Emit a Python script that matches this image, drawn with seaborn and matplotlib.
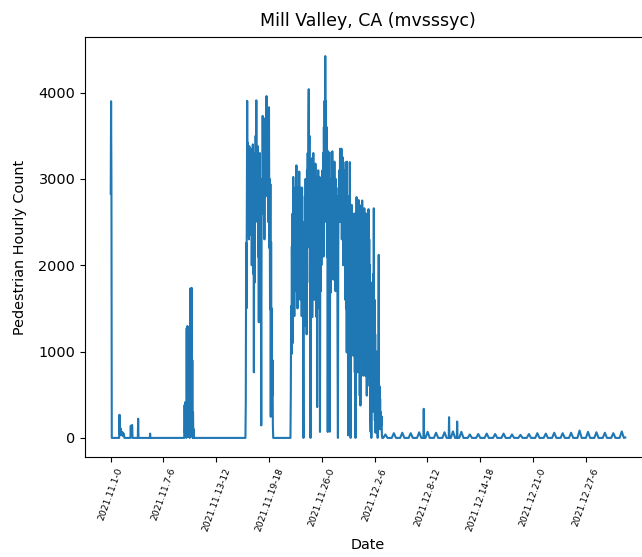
import matplotlib
matplotlib.use("Agg")
import matplotlib.pyplot as plt
import pandas as pd
import seaborn as sns

# ---------------- data (hour index since 2021-11-01 00:00, pedestrian count) -------------
tick_hours = [0, 150, 300, 450, 600, 750, 900, 1050, 1200, 1350]
tick_labels = ["2021.11.1-0", "2021.11.7-6", "2021.11.13-12", "2021.11.19-18",
               "2021.11.26-0", "2021.12.2-6", "2021.12.8-12", "2021.12.14-18",
               "2021.12.21-0", "2021.12.27-6"]

# early November, sparse readings
early_hours = [0, 1, 2, 3, 24, 25, 26, 28, 30, 33, 35, 37, 39,
               56, 57, 58, 60, 61, 62, 77, 78, 79, 111, 112, 113]
early_counts = [2830, 3900, 3010, 0, 0, 268, 40, 110, 30, 70, 20, 50, 0,
                0, 140, 20, 145, 150, 0, 0, 222, 0, 0, 50, 0]

# Nov 10 burst, hourly from hour 209
burst_start = 209
burst_counts = [0, 380, 60, 415, 20, 300, 0, 1270, 100, 1296, 30, 600, 10, 1280,
                80, 1000, 0, 1730, 50, 1700, 200, 1738, 20, 900, 0, 300, 0, 100, 0]

# Nov 17 - Nov 20 busy period, hourly from hour 383
busy1_start = 383
busy1_counts = [0, 415, 2260, 1500, 2620, 3905, 2700, 3420, 2400, 3300, 2300, 3380,
                2600, 3100, 2350, 3350, 2800, 3250, 2000, 3050, 2300, 3400, 1900, 2900,
                760, 2800, 1800, 3300, 2600, 3500, 2900, 3910, 2700, 3330, 2500, 3380,
                2100, 3200, 1340, 3000, 2200, 3300, 2400, 2900, 1800, 145, 2500, 3000,
                2600, 3730, 2900, 3470, 2600, 3600, 2300, 3700, 3000, 3500, 2800, 3650,
                3960, 2900, 3800, 3100, 3550, 2500, 3700, 3830, 2200, 3000, 1490, 2940,
                245, 2270, 760, 1500, 490, 900, 150, 0]

# Nov 22 - Dec 3 busy period, hourly from hour 511
busy2_start = 511
busy2_counts = [
    0, 500, 1526, 970, 2217, 1300, 2600, 1100, 3023, 2000,
    2700, 1411, 2800, 1700, 2900, 1950, 2600, 3157, 2100, 2900,
    1500, 2500, 1950, 2750, 2300, 3085, 2400, 2900, 1600, 2700,
    2000, 2600, 1411, 2900, 1800, 2500, 900, 0, 1500, 2300,
    1300, 2800, 1900, 3000, 2000, 2600, 1200, 3100, 2200, 3300,
    2400, 3600, 4040, 2800, 3500, 1800, 2500, 0,
    1800, 3000, 2200, 3240, 1400, 2800, 2000, 3300, 2400, 3085,
    1600, 2900, 2200, 3177, 2500, 2800, 1400, 3000, 357, 2600,
    1800, 3100, 2100, 2800, 1500, 3023, 69, 2400, 1700, 2900,
    2000, 2600, 2200, 3100,
    2400, 3300, 2100, 3600, 2800, 3905, 3200, 4423, 3400, 3900,
    2500, 3600, 2100, 3330, 69, 2800, 1680, 3310, 2300, 2900,
    72, 2600, 1680,
    3000, 2200, 3310, 2500, 3320, 2000, 3100, 1834, 2900, 2400,
    3200, 1900, 2790, 1700, 3000, 2300, 2800, 1834, 2600, 900,
    0, 2200, 2900,
    2500, 3100, 2600, 3350, 2505, 3200, 2700, 3350, 2300, 3100,
    2500, 3250, 2000, 3000, 2500, 3100, 2200, 2900, 1600,
    3195, 1500, 2800, 990, 3200, 1200, 2600, 30, 2400, 950,
    2800, 1600, 3195, 1900, 0, 2500, 1300, 2700, 1000, 2600,
    1800, 2400, 950, 2200, 1400,
    2600, 760, 2400, 0, 2200, 1000, 2790, 1200, 2500, 760,
    2700, 1300, 2755, 1000, 2400, 490, 2600, 375, 2300, 1100,
    2700, 900, 2750, 1400, 2200, 720, 2500, 990, 2660, 1200,
    2300, 720, 2600, 1300, 2400, 490, 2500, 1000, 2200, 700,
    2650, 1100, 2300, 600, 2000, 300, 70, 1800, 0, 1500, 600,
    1400, 300, 1900, 500, 2660, 800, 1600, 200, 1200, 60,
    900, 400, 1000, 150, 700, 0, 500, 1000, 2120, 100,
    600, 200, 450, 100, 300, 145, 250, 30, 0]

# December quiet period: daily peak per day starting Dec 3 (hour 768)
tail_start = 768
tail_day_peaks = [40, 55, 60, 55, 65, 70, 60, 65, 75, 70, 40, 45, 50, 45, 50,
                  40, 35, 45, 55, 50, 60, 55, 60, 85, 70, 65, 60, 55, 75]
spike_hours = [889, 890, 891, 961, 962, 963, 984, 985, 986]
spike_counts = [0, 337, 0, 0, 240, 0, 0, 190, 0]
last_hour, last_count = 1463, 5

# ---------------- assemble series ----------------
hours = list(early_hours)
counts = list(early_counts)
for start, seg in [(burst_start, burst_counts), (busy1_start, busy1_counts),
                   (busy2_start, busy2_counts)]:
    hours += [start + i for i in range(len(seg))]
    counts += list(seg)

tail = {}
for k, p in enumerate(tail_day_peaks):
    d = tail_start + 24 * k
    tail[d + 7] = 0
    tail[d + 13] = p
    tail[d + 19] = 0
for h, c in zip(spike_hours, spike_counts):
    tail[h] = c
tail[last_hour] = last_count
for h in sorted(tail):
    if h > hours[-1]:
        hours.append(h)
        counts.append(tail[h])

df = pd.DataFrame({"hour": hours, "count": counts})

# ---------------- plot ----------------
fig = plt.figure(figsize=(6.42, 5.57), dpi=100)
ax = fig.add_axes([85 / 642, 100 / 557, 566 / 642, 420 / 557])
sns.lineplot(data=df, x="hour", y="count", ax=ax, color="#1f77b4",
             linewidth=1.5, estimator=None, sort=False)

ax.set_xticks(tick_hours)
ax.set_xticklabels(tick_labels, rotation=70, fontsize=6.6)
ax.tick_params(axis="y", labelsize=10.4)
ax.tick_params(length=3.5, width=0.8)
for s in ax.spines.values():
    s.set_linewidth(0.8)
ax.set_xlabel("Date", fontsize=10.4)
ax.set_ylabel("Pedestrian Hourly Count", fontsize=10.4, labelpad=8)
ax.set_title("Mill Valley, CA (mvsssyc)", fontsize=12.5, pad=8)

fig.savefig("out.png", dpi=100)
